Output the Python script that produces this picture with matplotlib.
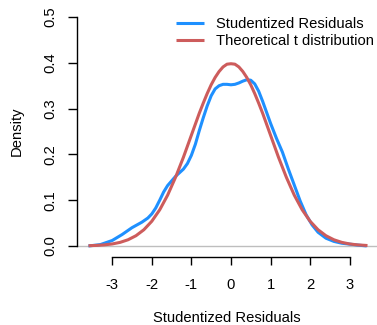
import matplotlib
matplotlib.use("Agg")
import matplotlib.pyplot as plt

# Studentized residuals density
resid_x = [-3.6, -3.3, -3.0, -2.75, -2.5, -2.25, -2.1, -2.0, -1.9, -1.8, -1.7, -1.6, -1.5, -1.4, -1.3,
           -1.2, -1.1, -1.0, -0.9, -0.8, -0.7, -0.6, -0.5, -0.4, -0.3, -0.2, -0.1, 0.0, 0.1, 0.2,
           0.3, 0.4, 0.5, 0.6, 0.7, 0.8, 0.9, 1.0, 1.15, 1.3, 1.45, 1.6, 1.75, 1.9, 2.05, 2.2, 2.4,
           2.6, 2.8, 3.0, 3.2, 3.43]
resid_y = [0.000, 0.003, 0.012, 0.025, 0.040, 0.052, 0.061, 0.070, 0.083, 0.100, 0.118, 0.132, 0.142,
           0.152, 0.160, 0.168, 0.180, 0.198, 0.222, 0.252, 0.280, 0.306, 0.328, 0.343, 0.350, 0.353,
           0.353, 0.352, 0.353, 0.356,
           0.360, 0.363, 0.362, 0.354, 0.338, 0.316, 0.292, 0.268, 0.235, 0.205, 0.168, 0.133, 0.098,
           0.068, 0.046, 0.030, 0.017,
           0.010, 0.006, 0.004, 0.002, 0.000]

# Theoretical t distribution
t_x = [-3.6, -3.4, -3.2, -3.0, -2.8, -2.6, -2.4, -2.2, -2.0, -1.8, -1.6, -1.4, -1.2, -1.0,
       -0.8, -0.7, -0.6, -0.5, -0.4, -0.3, -0.2, -0.1, 0.0, 0.1, 0.2, 0.3, 0.4, 0.5, 0.6, 0.7,
       0.8, 1.0, 1.2, 1.4, 1.6, 1.8, 2.0,
       2.2, 2.4, 2.6, 2.8, 3.0, 3.2, 3.45]
t_y = [0.0006, 0.0012, 0.0024, 0.0044, 0.0079, 0.0136, 0.0224, 0.0355, 0.054, 0.079, 0.111, 0.150,
       0.194, 0.242, 0.290, 0.312, 0.333, 0.352, 0.368, 0.381, 0.391, 0.397, 0.398, 0.397, 0.391,
       0.381, 0.368, 0.352, 0.333, 0.312,
       0.290, 0.242, 0.194, 0.150, 0.111, 0.079, 0.054, 0.0355, 0.0224, 0.0136, 0.0079, 0.0044,
       0.0024, 0.0010]

x_ticks = [-3, -2, -1, 0, 1, 2, 3]
y_ticks = [0.0, 0.1, 0.2, 0.3, 0.4, 0.5]

plt.rcParams['font.family'] = ['Liberation Sans', 'DejaVu Sans']
plt.rcParams['font.size'] = 10.6

fig = plt.figure(figsize=(3.77, 3.25), dpi=100)
ax = fig.add_axes([77/377, 70/325, 300/377, 247/325])

ax.axhline(0, color='#BEBEBE', lw=1.0, zorder=1)
ax.plot(resid_x, resid_y, color='#1E90FF', lw=2.2, label='Studentized Residuals', zorder=3,
        solid_joinstyle='round', solid_capstyle='butt')
ax.plot(t_x, t_y, color='#CD5C5C', lw=2.2, label='Theoretical t distribution', zorder=4,
        solid_joinstyle='round', solid_capstyle='butt')

ax.set_xlim(-3.89, 3.69)
ax.set_ylim(-0.0197, 0.5197)

for s in ['top', 'right']:
    ax.spines[s].set_visible(False)
ax.spines['left'].set_bounds(0, 0.5)
ax.spines['bottom'].set_bounds(-3, 3)
ax.spines['bottom'].set_position(('outward', 1.5))
ax.spines['left'].set_linewidth(1.0)
ax.spines['bottom'].set_linewidth(1.0)

ax.set_xticks(x_ticks)
ax.set_xticklabels([str(v) for v in x_ticks])
ax.set_yticks(y_ticks)
ax.set_yticklabels([f"{v:.1f}" for v in y_ticks], rotation=90, va='center')
ax.tick_params(axis='x', length=5.5, width=1.0, pad=9.5)
ax.tick_params(axis='y', length=6.5, width=1.0, pad=7.5)

ax.set_xlabel('Studentized Residuals')
ax.set_ylabel('Density')
ax.xaxis.set_label_coords(0.5, -0.255)
ax.yaxis.set_label_coords(-0.2, 0.5)
ax.xaxis.label.set_va('center')
ax.yaxis.label.set_va('center')

ax.legend(loc='upper left', bbox_to_anchor=((176-77)/300, (255-17)/247), frameon=False,
          borderpad=0, borderaxespad=0, handlelength=1.9, handletextpad=0.8,
          labelspacing=0.2, fontsize=10.6)

fig.savefig('out.png', dpi=100)
